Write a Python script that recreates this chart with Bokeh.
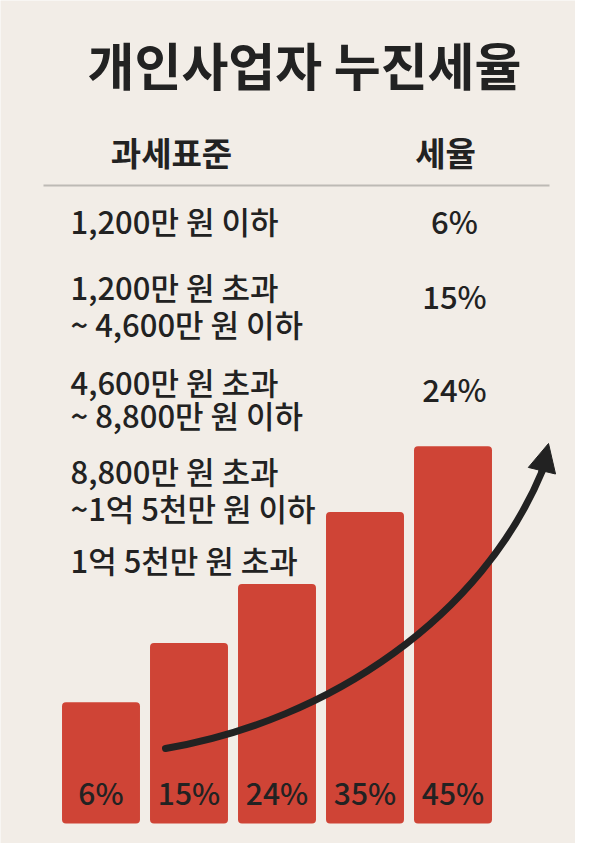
from bokeh.plotting import figure
from bokeh.models import Range1d, Arrow, NormalHead
from bokeh.core.properties import value
from bokeh.embed import file_html
from bokeh.resources import INLINE

# -----------------------------
# Data
# -----------------------------
title_text = "개인사업자 누진세율"
header_base = "과세표준"
header_rate = "세율"
bracket_lines = [
    ["1,200만 원 이하"],
    ["1,200만 원 초과", "~ 4,600만 원 이하"],
    ["4,600만 원 초과", "~ 8,800만 원 이하"],
    ["8,800만 원 초과", "~1억 5천만 원 이하"],
    ["1억 5천만 원 초과"],
]
rates = [6, 15, 24, 35, 45]
rate_labels = [f"{r}%" for r in rates]
table_rates_shown = 3  # only the first three rates are printed in the table

BG = "#f2ede7"
RED = "#cf4436"
INK = "#222222"
FONT = "'Noto Sans CJK KR Medium', 'Noto Sans CJK KR'"
FONT_BOLD = "Noto Sans CJK KR"

W, H = 575, 843
BAR_STEP = 88.0     # px per category
PX_PER_PCT = 6.56   # px per percentage point
BASE = -12.5        # baseline of the bars
TEXT_DY = 4         # CJK "middle" baseline sits a little low

x0 = -100.5 / BAR_STEP
y_bottom = BASE - (H - 823) / PX_PER_PCT
x1 = x0 + W / BAR_STEP
y_top = y_bottom + H / PX_PER_PCT


def px(x):
    """picture x (pixels from left) -> data x"""
    return x0 + x / BAR_STEP


def py(y):
    """picture y (pixels from top) -> data y"""
    return y_top - y / PX_PER_PCT


def ty_(y):
    """text centre in picture pixels -> data y"""
    return py(y - TEXT_DY)


p = figure(
    width=W, height=H,
    x_range=Range1d(x0, x1), y_range=Range1d(y_bottom, y_top),
    output_backend="svg", toolbar_location=None,
    x_axis_location=None, y_axis_location=None,
    min_border=0,
)
p.background_fill_color = BG
p.border_fill_color = BG
p.outline_line_color = None
p.grid.visible = False

# -----------------------------
# Bars
# -----------------------------
idx = list(range(len(rates)))
p.vbar(x=idx, top=rates, bottom=BASE, width=0.886,
       fill_color=RED, line_color=None, border_radius=4)

p.text(x=idx, y=[ty_(795)] * len(idx), text=rate_labels,
       text_font=value(FONT), text_font_size="30px", text_color=INK,
       text_align="center", text_baseline="middle")

# -----------------------------
# Trend arrow
# -----------------------------
p.bezier(x0=[px(165)], y0=[py(748)], x1=[px(542)], y1=[py(470)],
         cx0=[px(330)], cy0=[py(720)], cx1=[px(482)], cy1=[py(615)],
         line_color=INK, line_width=7, line_cap="round")
p.add_layout(Arrow(
    end=NormalHead(size=28, fill_color=INK, line_color=INK),
    x_start=px(541), y_start=py(472), x_end=px(548), y_end=py(443),
    line_color=INK, line_width=7,
))

# -----------------------------
# Title and table
# -----------------------------
p.text(x=[px(304)], y=[ty_(67)], text=[title_text],
       text_font=value(FONT_BOLD), text_font_size="51px", text_font_style="bold",
       text_color=INK, text_align="center", text_baseline="middle")

p.text(x=[px(171), px(445)], y=[ty_(155), ty_(155)], text=[header_base, header_rate],
       text_font=value(FONT_BOLD), text_font_size="33px", text_font_style="bold",
       text_color=INK, text_align="center", text_baseline="middle")

p.segment(x0=[px(43)], y0=[py(185)], x1=[px(549)], y1=[py(185)],
          line_color="#bdbab5", line_width=2)

row_y = [[224], [290, 327], [385, 418], [474, 511], [563]]
rate_y = [224, 299, 392]
tx, ty, tt = [], [], []
for lines, ys in zip(bracket_lines, row_y):
    for line, y in zip(lines, ys):
        tx.append(px(70))
        ty.append(ty_(y))
        tt.append(line)
p.text(x=tx, y=ty, text=tt, text_font=value(FONT), text_font_size="31px",
       text_color=INK, text_align="left", text_baseline="middle")

p.text(x=[px(454)] * table_rates_shown, y=[ty_(y) for y in rate_y],
       text=rate_labels[:table_rates_shown], text_font=value(FONT),
       text_font_size="31px", text_color=INK,
       text_align="center", text_baseline="middle")

open("out.html", "w").write(file_html(p, INLINE))
